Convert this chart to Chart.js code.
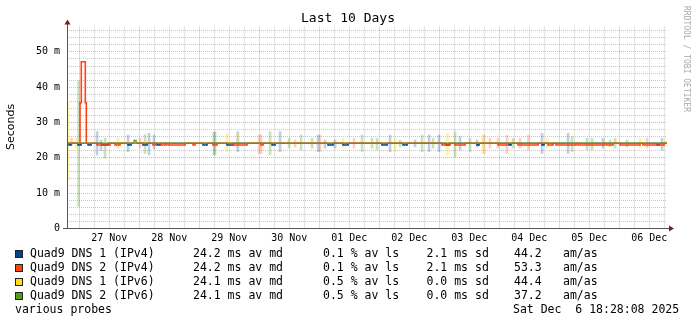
<!DOCTYPE html>
<html>
<head>
<meta charset="utf-8">
<script src="https://cdn.jsdelivr.net/npm/chart.js@4/dist/chart.umd.min.js"></script>
<style>
html,body{margin:0;padding:0;background:#fff;}
#wrap{width:697px;height:324px;position:relative;}
</style>
</head>
<body>
<div id="wrap"><canvas id="c" width="697" height="324"></canvas></div>
<script>
// ---------- data (hours relative to 27 Nov 00:00, values in ms) ----------
const X_MIN = -4.92, X_MAX = 235.08;
const Y_MAX = 57.2;
const dayLabels = ['27 Nov','28 Nov','29 Nov','30 Nov','01 Dec','02 Dec','03 Dec','04 Dec','05 Dec','06 Dec'];
const seriesNames = ['Quad9 DNS 1 (IPv4)','Quad9 DNS 2 (IPv4)','Quad9 DNS 1 (IPv6)','Quad9 DNS 2 (IPv6)'];
const avgMedian = ['24.2','24.2','24.1','24.1'];
const avgLoss = ['0.1','0.1','0.5','0.5'];
const stdDev = ['2.1','2.1','0.0','0.0'];
const amas = ['44.2','53.3','44.4','37.2'];
const footerLeft = 'various probes';
const footerDate = 'Sat Dec  6 18:28:08 2025';

const medianBase = 24.1;
const medianLow = 23.6;

// blue (DNS 1 IPv4) median: hours where median sits slightly lower
const blueLowStart = [-4.1,-0.5,3.5,9.1,19.5,25.5,31.1,49.5,59.1,77.1,99.5,105.5,121.1,129.5,146.7,159.1,171.9,185.1,231.1];
const blueLowEnd   = [-3.3, 0.7,4.7,11.5,20.7,27.1,32.3,51.1,61.5,78.3,101.5,107.5,123.1,131.1,147.9,159.9,172.7,185.9,231.9];

// orange (DNS 2 IPv4) median
const orangeSpikeHours = [0.28, 0.8, 2.4, 2.8];
const orangeSpikeMs    = [35.6, 47.2, 35.6, 24.1];
const orangeLowStart = [7.1,14.3,29.5,32.7,35.5,45.5,53.5,61.5,72.7,145.1,150.3,167.5,175.5,187.5,190.7,199.5,210.7,216.3,225.5];
const orangeLowEnd   = [12.3,16.3,30.3,34.7,42.3,46.3,55.1,67.1,73.5,148.3,154.3,171.1,183.5,189.5,198.7,209.9,213.5,224.3,233.9];

// green (DNS 2 IPv6) median bump
const greenBumpHours = [21.9, 22.7];
const greenBumpMs    = [24.9, 24.1];

// smoke (spread of pings)
const blueSmokeHours = [7.1,8.7,19.5,27.9,29.9,53.9,63.4,80.3,95.5,98.3,102.3,124.3,134.3,139.9,143.9,152.3,159.1,185.1,195.5,209.5,233.1];
const blueSmokeLow   = [20.8,22.0,21.7,20.8,22.5,20.8,21.7,21.7,21.7,22.7,22.7,21.7,23.1,21.7,21.7,22.2,23.1,21.2,21.2,22.7,22.2];
const blueSmokeHigh  = [27.4,25.0,26.4,26.9,26.4,27.2,27.4,27.4,26.4,25.0,25.0,26.4,25.0,26.4,26.4,26.0,25.0,26.9,26.9,25.5,25.5];

const greenSmokeHours = [-0.28,10.3,26.3,54.3,76.3,83.9,88.7,93.1,113.1,117.1,119.1,128.3,137.1,141.5,150.3,156.3,173.5,197.1,203.1,205.1,212.3,214.3,219.1];
const greenSmokeLow   = [6.2,19.8,21.2,20.8,20.8,22.7,22.2,22.7,21.7,22.7,22.2,23.1,21.7,22.7,20.3,21.7,22.7,21.7,22.2,22.2,23.1,22.7,23.1];
const greenSmokeHigh  = [41.8,25.5,26.6,27.4,27.4,25.5,26.4,25.5,26.4,25.5,25.5,25.0,26.4,25.5,27.4,25.5,25.5,26.0,25.5,25.5,25.0,25.5,25.0];

const yellowSmokeHours = [-4.64,-1.3,15.5,59.1,63.5,105.5,126.3,147.3,161.5,187.1,224.3,234.3];
const yellowSmokeLow   = [13.7,22.7,22.7,21.7,23.5,22.7,21.7,20.8,21.2,22.7,22.7,23.1];
const yellowSmokeHigh  = [35.5,25.5,25.5,26.9,26.9,25.5,25.5,26.9,26.4,25.5,25.5,25.0];

const orangeSmokeHours = [-3.1,24.3,71.9,72.7,86.3,96.3,109.9,161.9,164.3,167.5,171.1,176.3,179.7,227.1];
const orangeSmokeLow   = [23.4,22.7,21.2,21.2,23.1,21.7,22.7,21.2,22.7,22.7,21.2,22.7,22.2,22.7];
const orangeSmokeHigh  = [25.6,25.5,26.4,26.4,25.0,26.4,25.5,26.4,25.5,25.5,26.4,25.5,26.4,25.5];

// ---------- styles ----------
const COLORS = ['#004586','#ff420e','#ffde20','#579d1c'];
const SMOKE = ['rgba(0,69,134,0.25)','rgba(255,66,14,0.25)','rgba(255,222,32,0.4)','rgba(87,157,28,0.3)'];
const MONO = '"DejaVu Sans Mono", monospace';

function stepPoints(extraH, extraV, lowStart, lowEnd) {
  const pts = [{x: X_MIN, y: medianBase}];
  extraH.forEach((h, i) => pts.push({x: h, y: extraV[i]}));
  lowStart.forEach((s, i) => { pts.push({x: s, y: medianLow}); pts.push({x: lowEnd[i], y: medianBase}); });
  pts.push({x: X_MAX, y: medianBase});
  pts.sort((a, b) => a.x - b.x);
  return pts;
}
function smokePoints(h, lo, hi) { return h.map((x, i) => ({x: x, y: [lo[i], hi[i]]})); }

const lineDs = (data, color, width, order) => ({
  type: 'line', data, borderColor: color, borderWidth: width, stepped: true,
  pointRadius: 0, fill: false, tension: 0, order
});
const smokeDs = (data, color, order) => ({
  type: 'bar', data, backgroundColor: color, borderWidth: 0, barThickness: 2,
  grouped: false, order
});

const datasets = [
  smokeDs(smokePoints(blueSmokeHours, blueSmokeLow, blueSmokeHigh), SMOKE[0], 14),
  smokeDs(smokePoints(orangeSmokeHours, orangeSmokeLow, orangeSmokeHigh), SMOKE[1], 13),
  smokeDs(smokePoints(yellowSmokeHours, yellowSmokeLow, yellowSmokeHigh), SMOKE[2], 12),
  smokeDs(smokePoints(greenSmokeHours, greenSmokeLow, greenSmokeHigh), SMOKE[3], 11),
  lineDs(stepPoints([], [], blueLowStart, blueLowEnd), COLORS[0], 1.6, 4),
  lineDs(stepPoints(orangeSpikeHours, orangeSpikeMs, orangeLowStart, orangeLowEnd), COLORS[1], 1.6, 3),
  lineDs(stepPoints([], [], [], []), COLORS[2], 1.2, 2),
  lineDs(stepPoints(greenBumpHours, greenBumpMs, [], []), COLORS[3], 1.3, 1)
];

const MAJOR = 'rgba(222,60,60,0.45)';
const MINOR = 'rgba(130,130,130,0.45)';

const decor = {
  id: 'decor',
  afterDatasetsDraw(chart) {
    const ctx = chart.ctx, a = chart.chartArea;
    ctx.save();
    ctx.strokeStyle = '#555';
    ctx.lineWidth = 1;
    ctx.beginPath();
    ctx.moveTo(Math.round(a.left) + 0.5, a.bottom + 0.5);
    ctx.lineTo(Math.round(a.left) + 0.5, a.top - 3);
    ctx.moveTo(a.left - 4, Math.round(a.bottom) + 0.5);
    ctx.lineTo(a.right + 3, Math.round(a.bottom) + 0.5);
    ctx.stroke();
    ctx.fillStyle = '#7f1a1a';
    const lx = Math.round(a.left) + 0.5, by = Math.round(a.bottom) + 0.5;
    ctx.beginPath();
    ctx.moveTo(lx, a.top - 7); ctx.lineTo(lx - 3, a.top - 2); ctx.lineTo(lx + 3, a.top - 2); ctx.closePath(); ctx.fill();
    ctx.beginPath();
    ctx.moveTo(a.right + 7, by); ctx.lineTo(a.right + 2, by - 3); ctx.lineTo(a.right + 2, by + 3); ctx.closePath(); ctx.fill();
    ctx.restore();
  },
  afterDraw(chart) {
    const ctx = chart.ctx;
    ctx.save();
    ctx.fillStyle = '#000';
    ctx.textBaseline = 'middle';
    ctx.font = '13px ' + MONO;
    ctx.textAlign = 'center';
    ctx.fillText('Last 10 Days', 348, 19);
    ctx.save();
    ctx.translate(11, 127);
    ctx.rotate(-Math.PI / 2);
    ctx.font = '11px "DejaVu Sans", sans-serif';
    ctx.fillText('Seconds', 0, 0);
    ctx.restore();
    ctx.save();
    ctx.translate(686, 59);
    ctx.rotate(Math.PI / 2);
    ctx.fillStyle = '#aaaaaa';
    ctx.font = '8px ' + MONO;
    ctx.fillText('RRDTOOL / TOBI OETIKER', 0, 0);
    ctx.restore();
    ctx.textAlign = 'left';
    ctx.font = '11.5px ' + MONO;
    const rows = [254, 268, 282, 296];
    seriesNames.forEach((n, i) => {
      const y = rows[i];
      ctx.fillStyle = COLORS[i];
      ctx.fillRect(15, y - 4, 8, 8);
      ctx.strokeStyle = '#222';
      ctx.lineWidth = 1;
      ctx.strokeRect(15.5, y - 3.5, 7, 7);
      ctx.fillStyle = '#000';
      ctx.fillText(n, 30, y);
      ctx.fillText(avgMedian[i] + ' ms av md', 193, y);
      ctx.fillText(avgLoss[i] + ' % av ls', 323, y);
      ctx.fillText(stdDev[i] + ' ms sd', 426.5, y);
      ctx.fillText(amas[i], 514, y);
      ctx.fillText('am/as', 563, y);
    });
    ctx.fillText(footerLeft, 15, 310);
    ctx.fillText(footerDate, 513, 310);
    ctx.restore();
  }
};

new Chart(document.getElementById('c'), {
  type: 'line',
  data: { datasets },
  plugins: [decor],
  options: {
    responsive: false,
    animation: false,
    devicePixelRatio: 1,
    layout: { padding: { left: 0, right: 30, top: 26.5, bottom: 75.7 } },
    plugins: { legend: { display: false }, tooltip: { enabled: false }, title: { display: false } },
    scales: {
      x: {
        type: 'linear', min: X_MIN, max: X_MAX, offset: false,
        afterBuildTicks: (s) => { const t = []; for (let h = 0; h <= X_MAX; h += 6) t.push({ value: h }); s.ticks = t; },
        afterFit: (s) => { s.height = 20; },
        grid: { offset: false, drawTicks: false, color: (c) => (c.tick && c.tick.value % 24 === 0) ? MAJOR : MINOR, lineWidth: 1 },
        border: { display: false, dash: [1, 1] },
        ticks: {
          autoSkip: false, maxRotation: 0, padding: 4, color: '#000',
          font: { family: MONO, size: 10 },
          callback: (v) => (((v % 24) + 24) % 24 === 12) ? dayLabels[(v - 12) / 24] : ''
        }
      },
      y: {
        type: 'linear', min: 0, max: Y_MAX,
        afterBuildTicks: (s) => { const t = []; for (let v = 0; v <= 56; v += 2) t.push({ value: v }); s.ticks = t; },
        afterFit: (s) => { s.width = 67; },
        grid: { drawTicks: false, color: (c) => (c.tick && c.tick.value % 10 === 0) ? MAJOR : MINOR, lineWidth: 1 },
        border: { display: false, dash: [1, 1] },
        ticks: {
          autoSkip: false, padding: 7, color: '#000',
          font: { family: MONO, size: 10 },
          callback: (v) => v % 10 === 0 ? (v === 0 ? '0' : v + ' m') : ''
        }
      }
    }
  }
});
</script>
</body>
</html>
